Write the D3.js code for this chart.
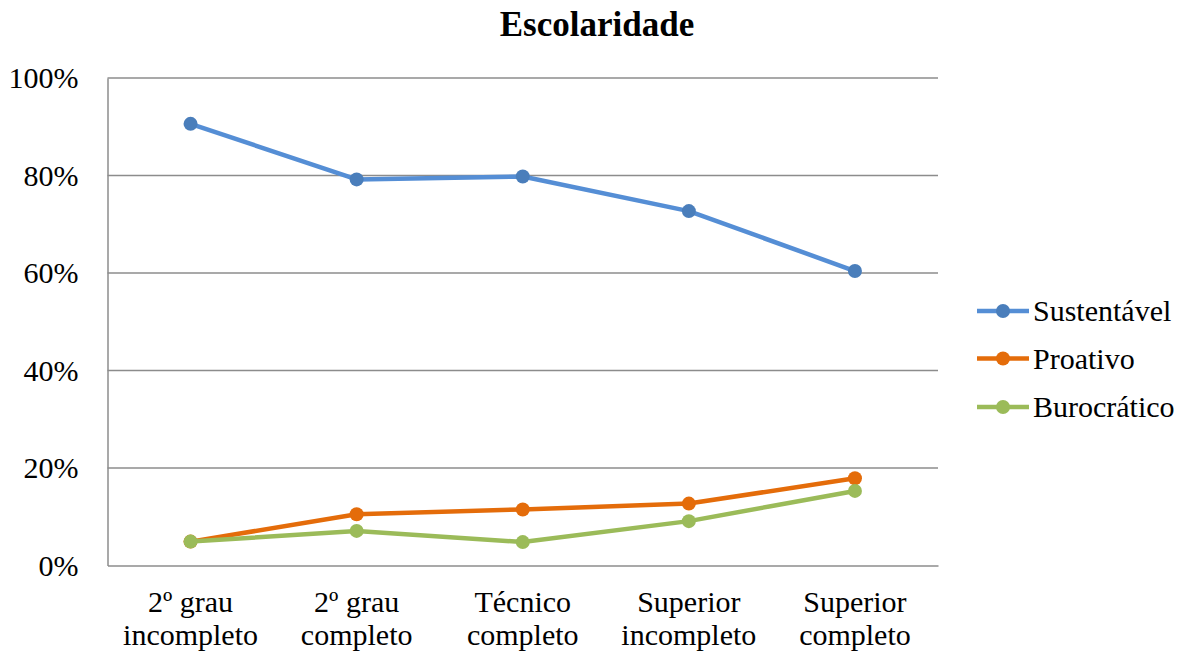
<!DOCTYPE html>
<html>
<head>
<meta charset="utf-8">
<script src="https://cdn.jsdelivr.net/npm/d3@7"></script>
</head>
<body style="margin:0;background:#fff">
<svg id="chart" width="1187" height="652" style="display:block"></svg>
<script>
// Education level categories (two-line labels)
const categories = [
  ["2º grau", "incompleto"],
  ["2º grau", "completo"],
  ["Técnico", "completo"],
  ["Superior", "incompleto"],
  ["Superior", "completo"]
];

// Share of each profile per education level (%)
const sustentavel = [90.6, 79.2, 79.8, 72.7, 60.4];
const proativo    = [4.9, 10.5, 11.5, 12.7, 17.9];
const burocratico = [4.9, 7.1, 4.8, 9.1, 15.3];

const yTicks = [0, 20, 40, 60, 80, 100];

const FONT = "'Liberation Serif'";

const series = [
  { name: "Sustentável", values: sustentavel, line: "#558ED5", marker: "#4A7EBB" },
  { name: "Proativo",    values: proativo,    line: "#E46C0A", marker: "#E46C0A" },
  { name: "Burocrático", values: burocratico, line: "#9BBB59", marker: "#9BBB59" }
];

const svg = d3.select("#chart");
const plot = { left: 107.5, right: 938, top: 78, bottom: 565.5 };

const x = d3.scaleBand()
  .domain(d3.range(categories.length))
  .range([plot.left, plot.right]);

const y = d3.scaleLinear()
  .domain([0, 100])
  .range([plot.bottom, plot.top]);

// Horizontal gridlines
svg.append("g")
  .selectAll("line")
  .data(yTicks.filter(d => d > 0))
  .join("line")
  .attr("x1", plot.left)
  .attr("x2", plot.right)
  .attr("y1", d => y(d))
  .attr("y2", d => y(d))
  .attr("stroke", "#8C8C8C")
  .attr("stroke-width", 1.3);

// Y axis line (labels drawn below)
const gy = svg.append("g")
  .attr("transform", `translate(${plot.left},0)`)
  .call(d3.axisLeft(y).tickValues(yTicks).tickSize(0).tickFormat(""));
gy.select(".domain").attr("stroke", "#8C8C8C").attr("stroke-width", 1.5);

// X axis baseline
const gx = svg.append("g")
  .attr("transform", `translate(0,${plot.bottom})`)
  .call(d3.axisBottom(x).tickSize(0).tickFormat(""));
gx.select(".domain").attr("stroke", "#8C8C8C").attr("stroke-width", 1.5);

// Lines and markers
const cx = i => x(i) + x.bandwidth() / 2;
const lineGen = d3.line()
  .x((d, i) => cx(i))
  .y(d => y(d));

series.forEach(s => {
  svg.append("path")
    .attr("d", lineGen(s.values))
    .attr("fill", "none")
    .attr("stroke", s.line)
    .attr("stroke-width", 4.5)
    .attr("stroke-linejoin", "round");
  s.values.forEach((v, i) => {
    svg.append("circle")
      .attr("cx", cx(i))
      .attr("cy", y(v))
      .attr("r", 7)
      .attr("fill", s.marker);
  });
});

// Legend
const legendY = [311, 358.5, 407];
series.forEach((s, i) => {
  svg.append("line")
    .attr("x1", 977).attr("x2", 1029)
    .attr("y1", legendY[i]).attr("y2", legendY[i])
    .attr("stroke", s.line)
    .attr("stroke-width", 4.5);
  svg.append("circle")
    .attr("cx", 1003).attr("cy", legendY[i]).attr("r", 7)
    .attr("fill", s.marker);
});

// ---- Text ----
// Title
svg.append("text")
  .attr("x", 597)
  .attr("y", 36)
  .attr("text-anchor", "middle")
  .style("font-family", FONT)
  .style("font-size", "35px")
  .style("font-weight", "bold")
  .text("Escolaridade");

// Y tick labels
yTicks.forEach(t => {
  svg.append("text")
    .attr("x", plot.left - 29)
    .attr("y", y(t) + 10)
    .attr("text-anchor", "end")
    .style("font-family", FONT)
    .style("font-size", "30px")
    .text(t + "%");
});

// Category labels
categories.forEach((lines, i) => {
  lines.forEach((line, j) => {
    svg.append("text")
      .attr("x", cx(i))
      .attr("y", 612 + j * 33)
      .attr("text-anchor", "middle")
      .style("font-family", FONT)
      .style("font-size", "30px")
      .text(line);
  });
});

// Legend labels
series.forEach((s, i) => {
  svg.append("text")
    .attr("x", 1033)
    .attr("y", legendY[i] + 10)
    .style("font-family", FONT)
    .style("font-size", "30px")
    .text(s.name);
});
</script>
</body>
</html>
